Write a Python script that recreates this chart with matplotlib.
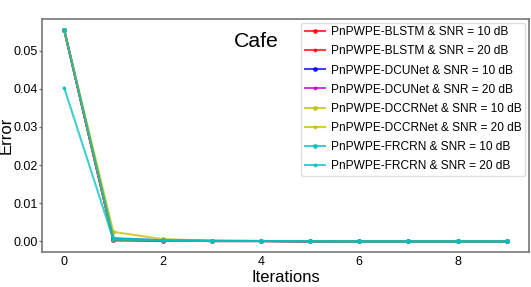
import matplotlib
matplotlib.use("Agg")
import matplotlib.pyplot as plt

plt.rcParams['font.family'] = ['Liberation Sans', 'DejaVu Sans']

iterations = list(range(10))
blstm_10 = [0.0555, 0.0003, 0.0002, 0.0001, 0.0001, 0.0, 0.0, 0.0, 0.0, 0.0]
blstm_20 = [0.0555, 0.0003, 0.0002, 0.0001, 0.0001, 0.0, 0.0, 0.0, 0.0, 0.0]
dcunet_10 = [0.0555, 0.0007, 0.0003, 0.0001, 0.0001, 0.0, 0.0, 0.0, 0.0, 0.0]
dcunet_20 = [0.0555, 0.0004, 0.0002, 0.0001, 0.0001, 0.0, 0.0, 0.0, 0.0, 0.0]
dccrnet_10 = [0.0555, 0.0025, 0.0006, 0.0002, 0.0001, 0.0001, 0.0, 0.0, 0.0, 0.0]
dccrnet_20 = [0.0555, 0.0005, 0.0003, 0.0001, 0.0001, 0.0, 0.0, 0.0, 0.0, 0.0]
frcrn_10 = [0.0555, 0.0009, 0.0003, 0.0002, 0.0001, 0.0001, 0.0, 0.0, 0.0, 0.0]
frcrn_20 = [0.0403, 0.0005, 0.0002, 0.0001, 0.0001, 0.0, 0.0, 0.0, 0.0, 0.0]

series = [
    ("PnPWPE-BLSTM & SNR = 10 dB", blstm_10, "red", "o"),
    ("PnPWPE-BLSTM & SNR = 20 dB", blstm_20, "red", "."),
    ("PnPWPE-DCUNet & SNR = 10 dB", dcunet_10, "blue", "o"),
    ("PnPWPE-DCUNet & SNR = 20 dB", dcunet_20, "m", "."),
    ("PnPWPE-DCCRNet & SNR = 10 dB", dccrnet_10, "y", "o"),
    ("PnPWPE-DCCRNet & SNR = 20 dB", dccrnet_20, "y", "."),
    ("PnPWPE-FRCRN & SNR = 10 dB", frcrn_10, "c", "o"),
    ("PnPWPE-FRCRN & SNR = 20 dB", frcrn_20, "c", "."),
]

fig = plt.figure(figsize=(5.31, 2.87), dpi=100)
ax = fig.add_axes([42/531, 1-252/287, 487/531, 233/287])
for label, vals, color, mk in series:
    ax.plot(iterations, vals, color=color, marker=mk, markersize=2.5 if mk == "o" else 3.5,
            linewidth=1.5, alpha=0.75, label=label)

for s in ax.spines.values():
    s.set_color("#777777")
    s.set_linewidth(1.2)
ax.tick_params(axis='x', labelsize=9, length=0, pad=3)
ax.tick_params(axis='y', labelsize=9, length=2.5, color="#777777", width=1, pad=0.5)
ax.set_xticks([0, 2, 4, 6, 8])
ax.set_yticks([0.0, 0.01, 0.02, 0.03, 0.04, 0.05])
ax.set_xlabel("Iterations", fontsize=12, labelpad=1)
ax.set_ylabel("Error", fontsize=12, labelpad=0)
ax.text(0.441, 0.903, "Cafe", transform=ax.transAxes, fontsize=15.3, ha="center", va="center")
leg = ax.legend(loc="upper right", fontsize=8.6, handlelength=1.7, handletextpad=0.5,
                labelspacing=0.6, borderpad=0.3, borderaxespad=0.3, framealpha=1)
leg.get_frame().set_edgecolor("#dddddd")
fig.savefig("out.png", dpi=100)
